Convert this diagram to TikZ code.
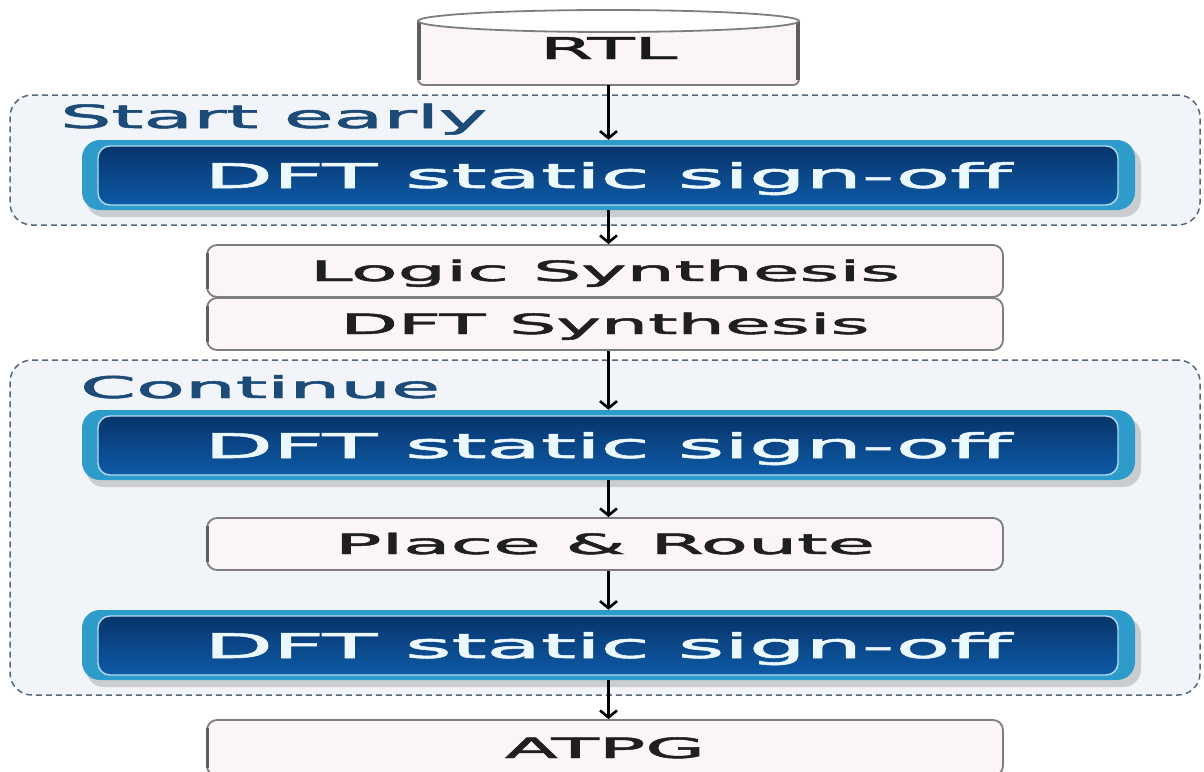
\documentclass[tikz,border=0pt]{standalone}
\usepackage{fontspec}
\setmainfont{DejaVu Sans}[FakeBold=1.6]
\usepackage{graphicx}
\usetikzlibrary{arrows.meta}
\definecolor{grpfill}{HTML}{F1F5F9}
\definecolor{grpline}{HTML}{56687C}
\definecolor{grptext}{HTML}{1D4B77}
\definecolor{procfill}{HTML}{FBF4F8}
\definecolor{procline}{HTML}{7E7E7E}
\definecolor{procdark}{HTML}{5E5E5E}
\definecolor{btnring}{HTML}{2D9CCB}
\definecolor{btntop}{HTML}{08346B}
\definecolor{btnbot}{HTML}{0D5AA6}
\newcommand\hfit[2]{\resizebox{#1}{\height}{#2}}
\begin{document}
\begin{tikzpicture}[x=1pt,y=-1pt,
 group/.style={draw=grpline, dash pattern=on 6pt off 4pt, line width=1.5pt, fill=grpfill, rounded corners=22pt, minimum width=1190pt, inner sep=0pt},
 grplabel/.style={anchor=base west, text=grptext, inner sep=0pt},
 proc/.style={draw=procline, line width=1.8pt, fill=procfill, rounded corners=10pt, minimum width=796pt, minimum height=52pt, inner sep=0pt, text=black!88, font=\fontsize{28}{32}\selectfont, text height=20pt, text depth=0pt},
 ring/.style={fill=btnring, rounded corners=18pt, minimum width=1053pt, minimum height=70pt, inner sep=0pt},
 btn/.style={draw=white!65!btnring, line width=1.4pt, top color=btntop, bottom color=btnbot, rounded corners=12pt, minimum width=1020pt, minimum height=59pt, inner sep=0pt, text=white!92!cyan, font=\fontsize{34}{40}\selectfont, text height=25pt, text depth=0pt},
 shadow/.style={fill=black, opacity=0.16, rounded corners=18pt},
 edge/.style={draw=procdark, line width=3.2pt},
 flow/.style={line width=3pt, -{Straight Barb[length=7pt,width=17pt,line width=2.6pt]}}]
\useasboundingbox (0,0) rectangle (1204,771);
\fill[white] (0,0) rectangle (1204,771);

% groups
\node[group, minimum height=130pt] (g1) at (605,160) {};
\node[group, minimum height=335pt] (g2) at (605,527.5) {};
\node[grplabel, font=\fontsize{32}{36}\selectfont] (l1) at (60,128) {\hfit{427pt}{Start early}};
\node[grplabel, font=\fontsize{30}{34}\selectfont] (l2) at (80,398) {\hfit{360pt}{Continue}};

% RTL cylinder
\draw[procline, fill=procfill, line width=1.8pt, rounded corners=6pt] (418,21) -- (418,85) -- (799,85) -- (799,21);
\draw[procdark, line width=3.2pt] (419,22) -- (419,80);
\draw[procdark, line width=3.2pt] (798,22) -- (798,80);
\draw[procline, fill=white, line width=1.8pt] (608.5,21) ellipse [x radius=190.5, y radius=11];
\node[inner sep=0pt, minimum width=381pt, minimum height=74pt, font=\fontsize{30}{34}\selectfont, text height=22pt, text depth=0pt, text=black!90] (rtl) at (608.5,48) {\hfit{137pt}{RTL}};

% buttons
\fill[shadow] (86,147) rectangle (1141,217);
\node[ring] (b1) at (608.5,175) {};
\node[btn] (b1i) at (608,175.5) {\hfit{807pt}{DFT static sign-off}};

\fill[shadow] (86,417) rectangle (1141,487);
\node[ring] (b2) at (608.5,445) {};
\node[btn] (b2i) at (608,445.5) {\hfit{807pt}{DFT static sign-off}};

\fill[shadow] (86,617) rectangle (1141,687);
\node[ring] (b3) at (608.5,645) {};
\node[btn] (b3i) at (608,645.5) {\hfit{807pt}{DFT static sign-off}};

% process boxes
\node[proc] (ls) at (605,271) {\hfit{590pt}{Logic Synthesis}};
\node[proc] (ds) at (605,324) {\hfit{529pt}{DFT Synthesis}};
\node[proc] (pr) at (605,544) {\hfit{540pt}{Place \& Route}};
\node[proc, minimum height=56pt] (at) at (605,748) {\hfit{200pt}{ATPG}};
\foreach \n in {ls,ds,pr,at}
  \draw[edge] ([xshift=1pt,yshift=-9pt]\n.north west) -- ([xshift=1pt,yshift=9pt]\n.south west);

% connectors
\draw[flow] (rtl.south) -- (rtl.south |- b1.north);
\draw[flow] (b1.south) -- (b1.south |- ls.north);
\draw[flow] (b1.south |- ds.south) -- (b2.north);
\draw[flow] (b2.south) -- (b2.south |- pr.north);
\draw[flow] (b2.south |- pr.south) -- (b3.north);
\draw[flow] (b3.south) -- (b3.south |- at.north);
\end{tikzpicture}
\end{document}
